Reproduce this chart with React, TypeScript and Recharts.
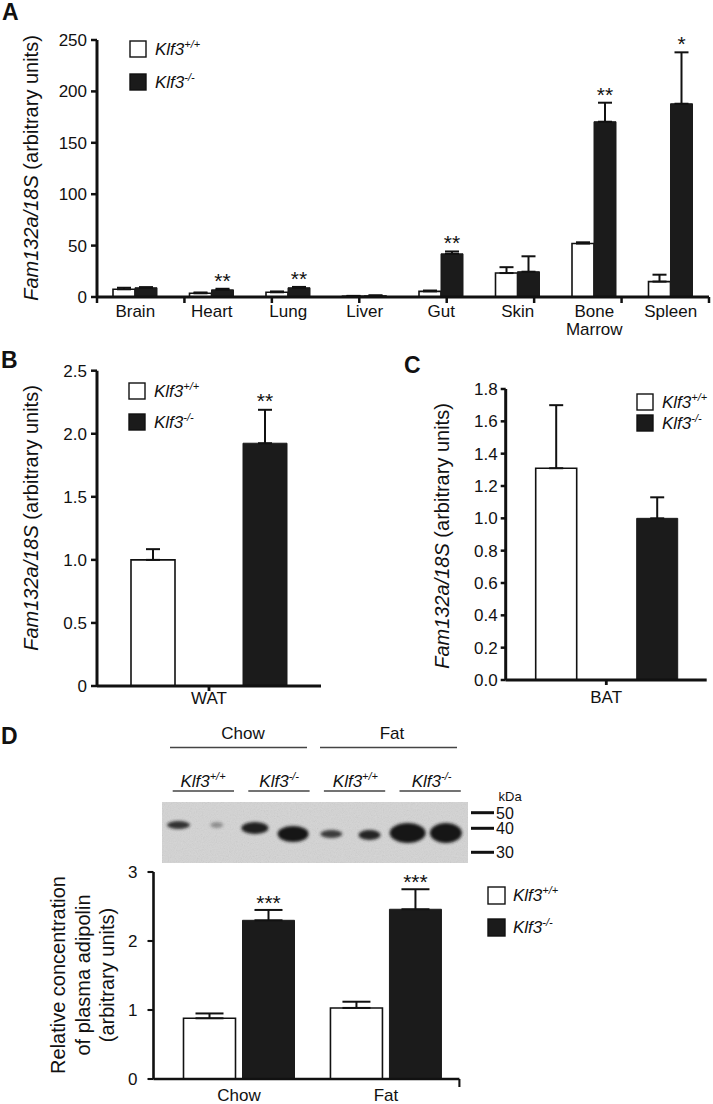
import React from 'react';
import { BarChart, Bar, XAxis, YAxis, ErrorBar, LabelList } from 'recharts';

const FONT = "'Liberation Sans', Arial, Helvetica, sans-serif";
const INK = '#111111';
const DARK = '#1b1b1b';

// ---------- shared ----------
const genotypeNames = ['Klf3', 'Klf3'];
const genotypeSups = ['+/+', '-/-'];
const genotypeFills = ['#ffffff', DARK];
const yTitleItalic = 'Fam132a/18S';
const yTitleRest = ' (arbitrary units)';

// ---------- Panel A ----------
const tissueLabels = ['Brain', 'Heart', 'Lung', 'Liver', 'Gut', 'Skin', 'Bone\nMarrow', 'Spleen'];
const tissueWT = [7.5, 3.6, 4.6, 0.8, 5.5, 23.3, 52, 15];
const tissueWTErr = [1.5, 0.8, 0.8, 0.3, 0.8, 5.7, 1.2, 6.7];
const tissueKO = [9, 7, 9, 1.3, 42, 24.6, 170.5, 188];
const tissueKOErr = [0.6, 1, 0.8, 0.3, 2.3, 15, 18.5, 50];
const tissueSig = ['', '**', '**', '', '**', '', '**', '*'];
const tissueTicks = [0, 50, 100, 150, 200, 250];

// ---------- Panel B ----------
const watLabels = ['WAT'];
const watWT = [1.0];
const watWTErr = [0.085];
const watKO = [1.925];
const watKOErr = [0.265];
const watSig = ['**'];
const watTicks = [0, 0.5, 1, 1.5, 2, 2.5];

// ---------- Panel C ----------
const batLabels = ['BAT'];
const batWT = [1.31];
const batWTErr = [0.39];
const batKO = [1.0];
const batKOErr = [0.13];
const batSig = [''];
const batTicks = [0, 0.2, 0.4, 0.6, 0.8, 1.0, 1.2, 1.4, 1.6, 1.8];

// ---------- Panel D ----------
const dietLabels = ['Chow', 'Fat'];
const adipWT = [0.88, 1.03];
const adipWTErr = [0.07, 0.09];
const adipKO = [2.3, 2.46];
const adipKOErr = [0.15, 0.29];
const adipSig = ['***', '***'];
const adipTicks = [0, 1, 2, 3];
const dTitleLines = ['Relative concentration', 'of plasma adipolin', '(arbitrary units)'];

// western blot (illustration)
const laneGenotypeSups = ['+/+', '-/-', '+/+', '-/-'];
const bandWidth = [23, 13, 27, 31, 22, 22, 36, 32];
const bandHeight = [8, 6, 12, 16, 8, 10, 20, 20];
const bandCenterY = [825, 825, 828, 834, 834, 835, 833, 833];
const bandDarkness = [0.85, 0.35, 0.95, 1, 0.8, 0.92, 1, 1];
const markerKDa = ['50', '40', '30'];
const markerY = [812.7, 828.3, 852.3];

const rowsOf = (cats: string[], wt: number[], wtE: number[], ko: number[], koE: number[]) =>
  cats.map((c, i) => ({ name: c, wt: wt[i], ko: ko[i], wtErr: [0, wtE[i]], koErr: [0, koE[i]] }));

const CatTick = (props: any) => {
  const { x, y, payload, fs, lh } = props;
  const lines = String(payload.value).split('\n');
  return (
    <text x={x} y={y} textAnchor="middle" fontSize={fs} fontFamily={FONT} fill={INK}>
      {lines.map((l, i) => (
        <tspan key={i} x={x} dy={i === 0 ? '0.71em' : lh}>{l}</tspan>
      ))}
    </text>
  );
};

const starLabel = (vals: number[], errs: number[], sig: string[], gap: number, fs: number) => (p: any) => {
  const i = p.index;
  const s = sig[i];
  if (!s) return null;
  const vb = p.viewBox && p.viewBox.width != null ? p.viewBox : p;
  const x = Number(vb.x), y = Number(vb.y), w = Number(vb.width), h = Number(vb.height);
  const per = h / vals[i];
  const top = y - errs[i] * per;
  return (
    <text key={`s${i}`} x={x + w / 2} y={top - gap} textAnchor="middle" fontSize={fs} fontFamily={FONT} fill={INK}>
      {s}
    </text>
  );
};

const singleTitle = (cx: number, cy: number) => () => (
  <g transform={`translate(${cx},${cy}) rotate(-90)`}>
    <text x={0} y={0} textAnchor="middle" dominantBaseline="central" fontSize={20} fontFamily={FONT} fill={INK}>
      <tspan fontStyle="italic">{yTitleItalic}</tspan>
      <tspan>{yTitleRest}</tspan>
    </text>
  </g>
);

const multiTitle = (cx: number, cy: number, offs: number[]) => () => (
  <g transform={`translate(${cx},${cy}) rotate(-90)`}>
    {dTitleLines.map((l, i) => (
      <text key={i} x={0} y={offs[i]} textAnchor="middle" dominantBaseline="central" fontSize={20} fontFamily={FONT} fill={INK}>
        {l}
      </text>
    ))}
  </g>
);

type PanelProps = {
  left: number; top: number; width: number; height: number;
  margin: { top: number; right: number; left: number; bottom: number };
  yWidth: number;
  cats: string[]; wt: number[]; wtErr: number[]; ko: number[]; koErr: number[]; sig: string[];
  domain: [number, number]; ticks: number[]; fmt: (v: number) => string;
  barSize: number; barGap: number;
  tickAxisH: number; catAxisH: number; boundary: number[]; padLeft: number;
  xTickSize: number; yTickSize: number; yTickMargin: number; axisW: number; fontSize: number; catFont: number;
  title: any; capW: number; starGap: number; starFont: number; lineH: number;
};

function Panel(P: PanelProps) {
  const rows = rowsOf(P.cats, P.wt, P.wtErr, P.ko, P.koErr);
  return (
    <div style={{ position: 'absolute', left: P.left, top: P.top }}>
      <BarChart width={P.width} height={P.height} data={rows} margin={P.margin} barGap={P.barGap} barSize={P.barSize}>
        <XAxis
          xAxisId="c"
          dataKey="name"
          type="category"
          axisLine={false}
          tickLine={false}
          tickSize={0}
          tickMargin={0}
          height={P.catAxisH}
          interval={0}
          padding={{ left: P.padLeft, right: 0 }}
          tick={<CatTick fs={P.catFont} lh={P.lineH} />}
        />
        <XAxis
          xAxisId="a"
          type="number"
          domain={[0, P.cats.length]}
          ticks={P.boundary}
          tickFormatter={() => ''}
          height={P.tickAxisH}
          tickSize={P.xTickSize}
          axisLine={{ stroke: INK, strokeWidth: P.axisW }}
          tickLine={{ stroke: INK, strokeWidth: P.axisW - 0.5 }}
          padding={{ left: P.padLeft, right: 0 }}
          allowDataOverflow
          interval={0}
        />
        <YAxis
          domain={P.domain}
          ticks={P.ticks}
          interval={0}
          tickFormatter={P.fmt}
          width={P.yWidth}
          allowDataOverflow
          axisLine={{ stroke: INK, strokeWidth: P.axisW }}
          tickLine={{ stroke: INK, strokeWidth: P.axisW - 0.5 }}
          tickSize={P.yTickSize}
          tickMargin={P.yTickMargin}
          tick={{ fontSize: P.fontSize, fill: INK, fontFamily: FONT }}
          label={P.title}
        />
        <Bar xAxisId="c" dataKey="wt" fill="#ffffff" stroke={INK} strokeWidth={1.6} isAnimationActive={false}>
          <ErrorBar dataKey="wtErr" width={P.capW} stroke={INK} strokeWidth={2} direction="y" />
        </Bar>
        <Bar xAxisId="c" dataKey="ko" fill={DARK} stroke={DARK} strokeWidth={1} isAnimationActive={false}>
          <ErrorBar dataKey="koErr" width={P.capW} stroke={INK} strokeWidth={2} direction="y" />
          <LabelList dataKey="ko" content={starLabel(P.ko, P.koErr, P.sig, P.starGap, P.starFont)} />
        </Bar>
      </BarChart>
    </div>
  );
}

function LegendBox({ x, y, gap, size }: { x: number; y: number; gap: number; size: number }) {
  return (
    <g>
      {genotypeNames.map((n, i) => (
        <g key={i}>
          <rect x={x} y={y + i * gap} width={size} height={size} fill={genotypeFills[i]} stroke={INK} strokeWidth={1.4} />
          <text x={x + 25} y={y + i * gap + 14} fontSize={17} fontFamily={FONT} fill={INK} fontStyle="italic">
            {n}
            <tspan fontSize={11} dy={-7} fontStyle="italic">{genotypeSups[i]}</tspan>
          </text>
        </g>
      ))}
    </g>
  );
}

function Overlay() {
  const laneStart = 178.5;
  const laneStep = 38.2;
  return (
    <svg width={713} height={1104} style={{ position: 'absolute', left: 0, top: 0, pointerEvents: 'none' }}>
      <defs>
        <filter id="bandBlur" x="-60%" y="-150%" width="220%" height="400%">
          <feGaussianBlur stdDeviation="1.7" />
        </filter>
        <filter id="grain" x="0" y="0" width="100%" height="100%">
          <feTurbulence type="fractalNoise" baseFrequency="0.85" numOctaves="2" seed="4" />
          <feColorMatrix type="saturate" values="0" />
          <feComponentTransfer>
            <feFuncA type="linear" slope="0.22" />
          </feComponentTransfer>
        </filter>
      </defs>
      {/* panel letters */}
      <g fontFamily={FONT} fontWeight="bold" fontSize={23} fill={INK}>
        <text x={2} y={20}>A</text>
        <text x={1} y={368}>B</text>
        <text x={404} y={373}>C</text>
        <text x={1} y={744}>D</text>
      </g>
      {/* legends */}
      <LegendBox x={130} y={41} gap={33} size={16} />
      <LegendBox x={129} y={383} gap={31} size={16} />
      <LegendBox x={637} y={394} gap={21} size={16} />
      <LegendBox x={488} y={887} gap={32} size={17} />
      {/* blot headers */}
      {dietLabels.map((d, g) => (
        <g key={d}>
          <text x={243 + g * 149} y={739} textAnchor="middle" fontSize={17} fontFamily={FONT} fill={INK}>{d}</text>
          <line x1={170 + g * 150} x2={307 + g * 150} y1={747.5} y2={747.5} stroke="#444" strokeWidth={1.5} />
        </g>
      ))}
      {laneGenotypeSups.map((s, i) => (
        <g key={i}>
          <text x={203 + i * 76.2} y={787} textAnchor="middle" fontSize={17} fontFamily={FONT} fill={INK} fontStyle="italic">
            Klf3<tspan fontSize={11} dy={-7}>{s}</tspan>
          </text>
          <line x1={172.7 + i * 75.6} x2={234 + i * 75.6} y1={791} y2={791} stroke="#444" strokeWidth={1.5} />
        </g>
      ))}
      {/* blot */}
      <rect x={162} y={802} width={306} height={61} fill="#d4d4d4" />
      <rect x={162} y={802} width={306} height={61} filter="url(#grain)" />
      {bandWidth.map((w, i) => (
        <ellipse
          key={i}
          cx={laneStart + i * laneStep}
          cy={bandCenterY[i]}
          rx={w / 2}
          ry={bandHeight[i] / 2}
          fill="#141414"
          opacity={bandDarkness[i]}
          filter="url(#bandBlur)"
        />
      ))}
      {markerKDa.map((m, i) => (
        <g key={m}>
          <line x1={471} x2={494} y1={markerY[i]} y2={markerY[i]} stroke={INK} strokeWidth={3} />
          <text x={496} y={markerY[i] + 6} fontSize={16} fontFamily={FONT} fill={INK}>{m}</text>
        </g>
      ))}
      <text x={498.5} y={800.5} fontSize={13} fontFamily={FONT} fill={INK}>kDa</text>
    </svg>
  );
}

export default function App() {
  return (
    <div style={{ position: 'absolute', left: 0, top: 0, width: 713, height: 1104, background: '#ffffff', overflow: 'hidden' }}>
      <Panel
        left={0} top={0} width={713} height={340}
        margin={{ top: 40, right: 4, left: 0, bottom: 0 }}
        yWidth={97}
        cats={tissueLabels} wt={tissueWT} wtErr={tissueWTErr} ko={tissueKO} koErr={tissueKOErr} sig={tissueSig}
        domain={[0, 250]} ticks={tissueTicks} fmt={(v) => String(v)}
        barSize={22} barGap={0}
        tickAxisH={8} catAxisH={35} boundary={tissueLabels.map((_, i) => i).concat([tissueLabels.length])} padLeft={0}
        xTickSize={6} yTickSize={6} yTickMargin={4} axisW={3} fontSize={17} catFont={17}
        title={singleTitle(31, 168)} capW={7} starGap={1} starFont={21} lineH={18}
      />
      <Panel
        left={0} top={340} width={340} height={374}
        margin={{ top: 30.7, right: 19, left: 0, bottom: 0 }}
        yWidth={97}
        cats={watLabels} wt={watWT} wtErr={watWTErr} ko={watKO} koErr={watKOErr} sig={watSig}
        domain={[0, 2.5]} ticks={watTicks} fmt={(v) => (v === 0 ? '0' : v.toFixed(1))}
        barSize={44} barGap={68}
        tickAxisH={6} catAxisH={22} boundary={[0, 1]} padLeft={0}
        xTickSize={5} yTickSize={6} yTickMargin={4} axisW={3} fontSize={17} catFont={17}
        title={singleTitle(31, 178)} capW={7} starGap={2} starFont={21} lineH={18}
      />
      <Panel
        left={360} top={340} width={353} height={373}
        margin={{ top: 49, right: 6.3, left: 0, bottom: 0 }}
        yWidth={145.7}
        cats={batLabels} wt={batWT} wtErr={batWTErr} ko={batKO} koErr={batKOErr} sig={batSig}
        domain={[0, 1.8]} ticks={batTicks} fmt={(v) => v.toFixed(1)}
        barSize={41} barGap={60}
        tickAxisH={11} catAxisH={22} boundary={[0, 1]} padLeft={0}
        xTickSize={5} yTickSize={5} yTickMargin={3} axisW={3} fontSize={17} catFont={17}
        title={singleTitle(81.7, 196)} capW={7} starGap={2} starFont={21} lineH={18}
      />
      <Panel
        left={0} top={860} width={470} height={249}
        margin={{ top: 12, right: 10.6, left: 0, bottom: 0 }}
        yWidth={153.5}
        cats={dietLabels} wt={adipWT} wtErr={adipWTErr} ko={adipKO} koErr={adipKOErr} sig={adipSig}
        domain={[0, 3]} ticks={adipTicks} fmt={(v) => String(v)}
        barSize={52} barGap={7}
        tickAxisH={10} catAxisH={20} boundary={[1]} padLeft={12}
        xTickSize={8} yTickSize={6} yTickMargin={10} axisW={2.6} fontSize={17} catFont={17}
        title={multiTitle(83, 115, [-25, 0, 24])} capW={14} starGap={0} starFont={21} lineH={18}
      />
      <Overlay />
    </div>
  );
}
